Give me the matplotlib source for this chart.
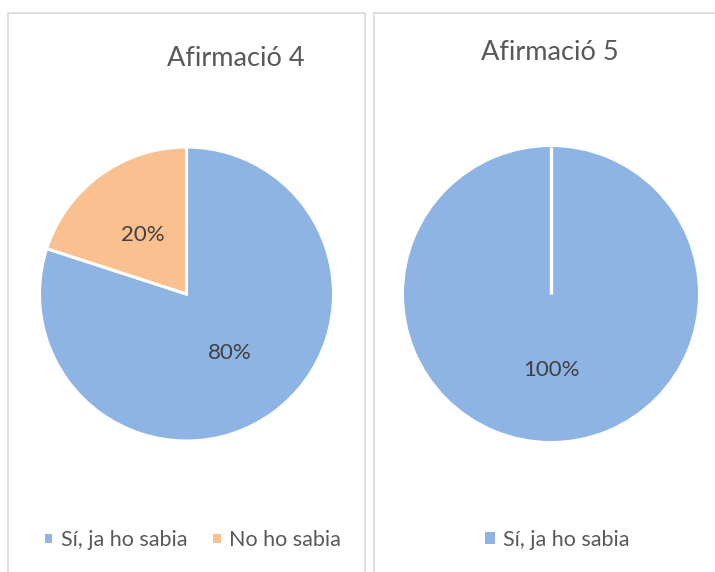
import matplotlib
matplotlib.use("Agg")
import matplotlib.pyplot as plt
from matplotlib.patches import Rectangle
import numpy as np

plt.rcParams['font.family'] = ['Lato', 'DejaVu Sans']

titles = ["Afirmació 4", "Afirmació 5"]
categories = ["Sí, ja ho sabia", "No ho sabia"]
values_4 = [80, 20]
values_5 = [100]
colors = ["#8EB4E3", "#FAC090"]

W, H = 715, 572
fig = plt.figure(figsize=(W / 100, H / 100), dpi=100)

def fx(x):
    return x / W

def fy(y):
    return 1 - y / H

border = "#D9D9D9"
# panel frames
fig.add_artist(Rectangle((fx(7.5), fy(600)), fx(357), fy(12.5) - fy(600),
                         transform=fig.transFigure, fill=False, edgecolor=border, lw=1.2))
fig.add_artist(Rectangle((fx(373.5), fy(600)), fx(400), fy(12.5) - fy(600),
                         transform=fig.transFigure, fill=False, edgecolor=border, lw=1.2))

def pie_axes(cx, cy, r):
    ax = fig.add_axes([fx(cx - r), fy(cy + r), fx(2 * r), (2 * r) / H])
    ax.axis('off')
    return ax

def fix_limits(ax):
    ax.set_xlim(-1, 1)
    ax.set_ylim(-1, 1)
    ax.set_aspect('equal')

label_color = "#404040"
text_color = "#595959"

ax1 = pie_axes(186.5, 294, 147)
w1, _, t1 = ax1.pie(values_4, colors=colors, startangle=90, counterclock=False,
                    radius=1, autopct='%1.0f%%', pctdistance=0.5,
                    wedgeprops=dict(edgecolor='white', linewidth=2.2),
                    textprops=dict(color=label_color, fontsize=16))
fix_limits(ax1)

ax2 = pie_axes(551, 294, 147)
w2, _, t2 = ax2.pie(values_5, colors=colors[:1], startangle=90, counterclock=False,
                    radius=1, autopct='%1.0f%%', pctdistance=0.52,
                    wedgeprops=dict(edgecolor='none', linewidth=0),
                    textprops=dict(color=label_color, fontsize=16))
ang = np.deg2rad(90)
ax2.plot([0, np.cos(ang)], [0, np.sin(ang)], color='white', lw=2.4, solid_capstyle='butt')
fix_limits(ax2)

fig.text(fx(236), fy(58), titles[0], ha='center', va='center', fontsize=19.5, color=text_color)
fig.text(fx(550), fy(52), titles[1], ha='center', va='center', fontsize=19.5, color=text_color)

leg_kw = dict(frameon=False, fontsize=15.5, labelcolor=text_color, handlelength=0.5,
              handleheight=0.5, handletextpad=0.35, columnspacing=1.1, borderpad=0,
              borderaxespad=0)
fig.legend(w1, categories, loc='center', bbox_to_anchor=(fx(192), fy(540)), ncol=2, **leg_kw)
fig.legend(w2, categories[:1], loc='center', bbox_to_anchor=(fx(557), fy(540)), ncol=1, **leg_kw)

fig.savefig("out.png", dpi=100, facecolor='white')
